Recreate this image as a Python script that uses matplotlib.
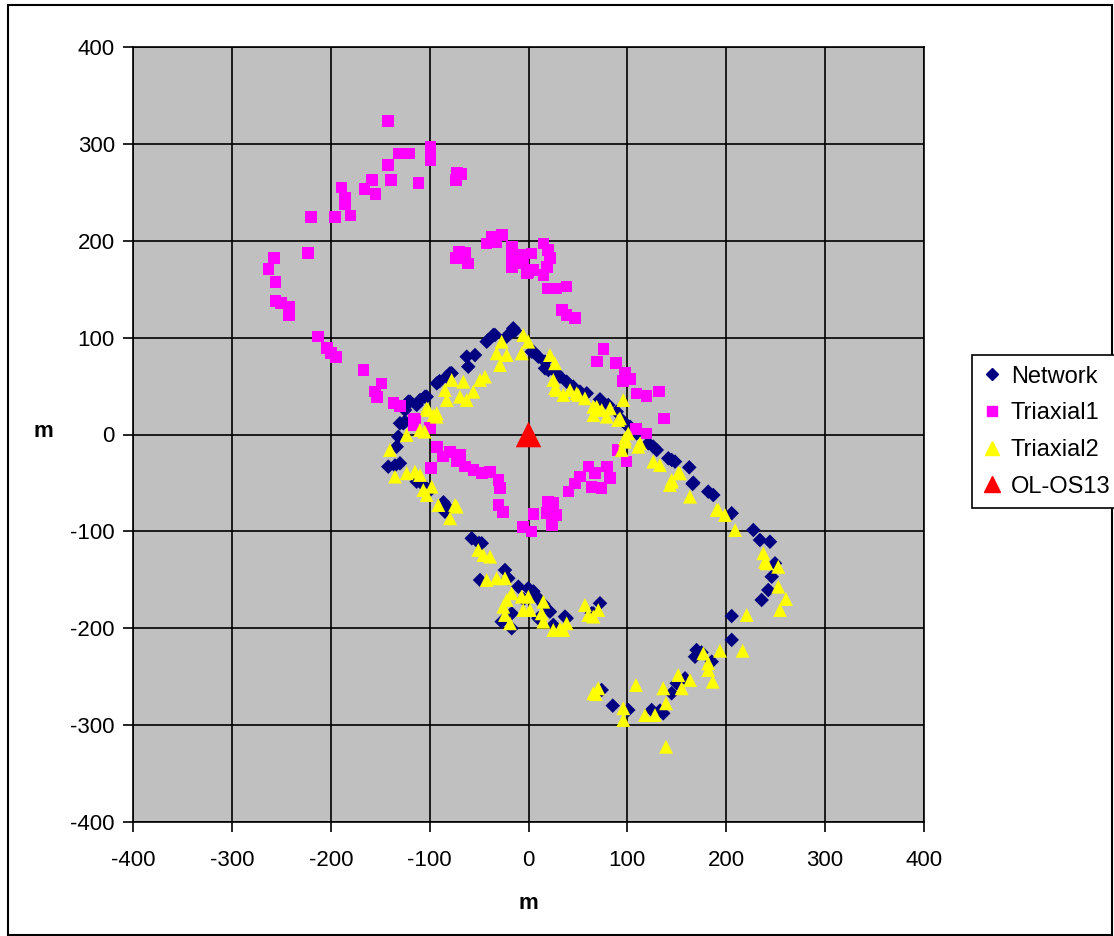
import matplotlib
matplotlib.use("Agg")
import matplotlib.pyplot as plt
from matplotlib.patches import Rectangle
from matplotlib.lines import Line2D

plt.rcParams['font.family'] = ['Liberation Sans', 'DejaVu Sans']
plt.rcParams['axes.unicode_minus'] = False

network = [
    (-141.8,-33.2), (-135,-32), (-130,-29.7), (-133.3,-12.6), (-131.7,-2.3), (-130,11.6), (-126.6,11.6),
    (-124.9,13.2), (-124.9,25.3), (-121.5,33.9), (-119.8,33.9), (-113.1,30.5), (-109.7,35.6), (-104.7,39),
    (-103,39), (-92.8,52.8), (-90,55), (-82.7,59.7), (-79.4,63.2), (-77.7,63.2), (-62.5,80.3), (-60.9,70),
    (-54.1,82), (-42.3,95.8), (-40.7,97.5), (-35.6,102.7), (-33.9,102.7), (-22,101), (-18.7,104.5),
    (-15.4,109.6), (-13.7,107),
    (3.2,85.5), (4.9,85.5), (9.9,80.3), (16.7,75.2), (16.7,68.3), (20,66.6), (28.5,63.2), (31.9,59.7),
    (38.6,54.5), (45.3,49.3), (52.1,44.2), (58.9,42.5), (72.3,36.3), (80.7,30.5), (89.2,23.5), (94.3,15),
    (99.3,9.8), (102.7,8), (109.4,1.2), (121.2,-9.1), (126.2,-12.6), (129.7,-16), (141.4,-24.6),
    (144.8,-26.3), (148.2,-28), (162.6,-33.9), (166.7,-49.8), (166,-51), (181.8,-59), (186.9,-62.5),
    (205.5,-81.3), (227.4,-98.6), (234.1,-108.9), (244.2,-110.7), (249.3,-133), (246,-146.8),
    (242.5,-160.5), (235.8,-170.8),
    (205.5,-187.4), (205.5,-212), (170,-222.5), (168.4,-229.4), (175,-225), (185.3,-234.5), (158.3,-251.7),
    (149.9,-256.8), (144.8,-267.1), (136.3,-287.8), (133,-285), (124.6,-284.4), (100.9,-284.4),
    (85.2,-279.9), (74,-263.7),
    (-113.1,-48.7), (-106.4,-52.1), (-100,-58), (-84.5,-79.7), (-82.7,-74.5), (-86,-70), (-57.4,-107.2),
    (-50,-112), (-47.3,-112.3), (-49,-150.2), (-23.8,-139.9), (-20.4,-148.4), (-10.3,-157.1),
    (-0.2,-158.8), (8.3,-167.4), (5,-162), (21.7,-182.9), (-17,-184.6), (-27.1,-193.2), (-17,-200),
    (9.9,-189.7), (25.1,-196.6), (36.9,-188), (38.6,-189.7), (72.3,-174.2), (63.9,-184.6), (65.5,-184.6),
    (-5,-170), (15,-175),
]

triaxial1 = [
    (-141.8,323.6), (-131,290), (-120.5,290), (-99.3,297), (-99.3,290), (-99.3,283), (-142.4,278),
    (-138.8,262.7), (-158.3,262.7), (-165.7,253.7), (-154.9,248), (-111.4,259.3), (-72,270), (-73.6,262.7),
    (-68,269), (-189,255), (-185.3,244.8), (-185.3,238), (-180.2,225.9), (-196,224.2), (-219.7,224.2),
    (-223.3,187.4), (-257.4,181.9), (-262.8,170.8), (-255.7,157.7), (-255.7,137.8), (-250.3,136),
    (-242,132), (-242,123.4), (-242,128), (-212.6,101), (-203.5,89), (-200,84), (-195,80),
    (-70.3,188.7), (-64.2,187.7), (-73.6,181.9), (-60.9,176.7), (-42.3,197.3), (-37.2,204.2),
    (-32.2,199), (-27.1,206), (-17,193.9), (-17,183.5), (-17,173.2), (-5.3,176.7), (-1.8,166.4),
    (-8.6,185.3), (-0.2,168), (4.9,169.8), (3.2,187), (15,197.3), (20,190.5), (21.7,181.9), (18.4,173.2),
    (15,164.6), (20,150.9), (28.5,150.9), (38.6,152.6), (33.6,128.5), (38.6,123.4), (47,120),
    (75.7,88), (69,75.2), (88.5,74.1), (97.6,63.2), (102.7,57), (95.3,55.2), (109.4,42.5), (119.5,39.7),
    (132,44.2), (137,16.7), (108.7,5.4), (119.5,1.2),
    (90.8,-16), (99.3,-28), (79.1,-33.2), (60.5,-33.2), (67.3,-40), (82.4,-45.2), (52.1,-43.5),
    (47,-50.4), (63.9,-53.9), (74,-55.5), (40.3,-59), (25.1,-70.4), (20,-81.3), (28.5,-83.1), (23.5,-93.4),
    (4.9,-82), (3.2,-100.3), (-5.3,-95.2), (20,-69.4), (18.4,-81.3),
    (-167,66.6), (-148.5,52.8), (-155.2,44.2), (-153.5,38.4), (-136.7,32.8), (-130,29.4), (-114.8,16.7),
    (-99.6,6.4), (-116.5,9.8), (-116.5,15), (-92.8,-12.6), (-86.2,-22.9), (-79.4,-17.8), (-69.3,-21.2),
    (-72.6,-28), (-64.2,-33.2), (-55.8,-36.6), (-47.3,-40), (-38.9,-38.4), (-30.5,-47), (-28.8,-55.5),
    (-98.9,-34.9), (-30.5,-72.8), (-25.5,-79.7),
]

triaxial2 = [
    (-5.3,102.7), (-0.2,95.8), (-6.9,83.8), (-27.1,95.8), (-22,82), (-32.2,83.8), (-28.8,71.7), (-44,59.7),
    (-49,56.3), (-55.8,44.2), (-65.9,54.5), (-77.7,56.3), (-84.5,45.9), (-82.7,35.6), (-69.3,39),
    (-62.5,35.6), (-101.3,25.3), (-103,27), (-92.8,18.4), (-92.8,21.9), (-96,20), (-109.7,4.6),
    (-105,3), (-123.2,-0.5), (-140.1,-16),
    (21.7,82), (26.8,73.5), (25.1,56.3), (28.5,45.9), (26.8,47.7), (35.2,40.8), (42,45.9), (48.7,42.5),
    (50.4,40.8), (57.1,37.4), (65.5,28.7), (69,28.7), (65.5,20.1), (74,25.3), (82.4,27), (79.1,18.4),
    (90.8,15), (92.5,16.7), (95.9,35.6), (100.9,1.2), (97.6,-3.9), (97.6,-7.4), (94.3,-16),
    (112.8,-9.1), (111,-12.6), (126.2,-28), (132.9,-31.5), (151.5,-40), (153.2,-40), (144.8,-47),
    (144.8,-48.7), (143.1,-52.1), (163.3,-64.2), (192,-77.9), (190.3,-77.9), (198.7,-83.1), (209,-98.6),
    (237.5,-122.6), (239.2,-131.3), (240.9,-133), (252.6,-136.5), (252.6,-157.1), (260.4,-169.8),
    (254.4,-181.2),
    (220.7,-186.3), (216.6,-223.2), (193.7,-223.2), (176.8,-225.9), (181.8,-236.2), (181.8,-243.1),
    (186.3,-255.2), (163.3,-253.4), (151.5,-248.3), (154.9,-262), (136.3,-262), (139.1,-277.5),
    (139.1,-322.3), (127.9,-289.6), (117.8,-289.6), (108.7,-258.6), (95.9,-282.6), (95.9,-294.7),
    (65.5,-267.1), (70.6,-262), (68,-268),
    (-135,-43.5), (-123.2,-40), (-114.8,-38.4), (-109.7,-41.8), (-106.4,-57.3), (-97.9,-53.9),
    (-103,-62.5), (-91.2,-72.8), (-74.3,-72.8), (-72.6,-74.5), (-79.4,-86.5), (-50.8,-119.2),
    (-45.7,-124.4), (-38.9,-126.1), (-42.3,-150.2), (-32.2,-148.4), (-23.8,-148.4), (-17,-163.9),
    (-22,-170.8), (-25.5,-177.8), (-23.8,-186.3), (-18.7,-194.9), (-6.9,-167.4), (-0.2,-167.4),
    (-5.3,-181.2), (1.5,-181.2), (15,-172.6), (13.3,-184.6), (15,-193.2), (25.1,-201.8), (31.9,-200),
    (35.2,-201.8), (38.6,-194.9), (57.1,-176), (60.5,-186.3), (70.6,-181.2), (65.5,-188),
]

station = [(0.0, 0.0)]

ticks = [-400, -300, -200, -100, 0, 100, 200, 300, 400]
series_names = ['Network', 'Triaxial1', 'Triaxial2', 'OL-OS13']

fig = plt.figure(figsize=(11.14, 9.36), dpi=100)
ax = fig.add_axes([133/1114, 1-822/936, (924-133)/1114, (822-47)/936])
ax.set_facecolor('#C0C0C0')
ax.set_xlim(-400, 400)
ax.set_ylim(-400, 400)
ax.set_xticks(ticks)
ax.set_yticks(ticks)
ax.grid(True, color='black', linewidth=1.2)
ax.set_axisbelow(True)
ax.tick_params(direction='out', length=7, width=1.2, labelsize=16, colors='black')
ax.tick_params(axis='x', pad=13)
ax.tick_params(axis='y', pad=6)
for s in ax.spines.values():
    s.set_linewidth(1.2)

def xy(pts):
    return [p[0] for p in pts], [p[1] for p in pts]

x, y = xy(network)
ax.scatter(x, y, marker='D', s=55, color='#000080', edgecolors='none', label=series_names[0], zorder=3)
x, y = xy(triaxial1)
ax.scatter(x, y, marker='s', s=70, color='#FF00FF', edgecolors='none', label=series_names[1], zorder=4)
x, y = xy(triaxial2)
ax.scatter(x, y, marker='^', s=100, color='#FFFF00', edgecolors='none', label=series_names[2], zorder=5)
x, y = xy(station)
ax.scatter(x, y, marker='^', s=340, color='#FF0000', edgecolors='none', label=series_names[3], zorder=6)

ax.set_xlabel('m', fontsize=16, fontweight='bold', labelpad=16)
ax.set_ylabel('m', fontsize=16, fontweight='bold', rotation=0, labelpad=0)
ax.yaxis.set_label_coords(-0.113, 0.49)

handles = [
    Line2D([], [], marker='D', color='#000080', linestyle='none', markersize=6.5),
    Line2D([], [], marker='s', color='#FF00FF', linestyle='none', markersize=7.5),
    Line2D([], [], marker='^', color='#FFFF00', linestyle='none', markersize=10),
    Line2D([], [], marker='^', color='#FF0000', linestyle='none', markersize=12),
]
leg = fig.legend(handles, series_names,
                 loc='upper left', bbox_to_anchor=(972/1114, 1-355/936),
                 bbox_transform=fig.transFigure, fontsize=17, frameon=True,
                 fancybox=False, edgecolor='black', framealpha=1, labelspacing=0.62,
                 handlelength=0.8, handletextpad=0.4, borderpad=0.45, borderaxespad=0)
leg.get_frame().set_linewidth(1.2)

fig.patches.append(Rectangle((8/1114, 1/936), (1112-8)/1114, (930)/936, transform=fig.transFigure,
                             fill=False, edgecolor='black', linewidth=1.5))

fig.savefig('out.png', dpi=100)
